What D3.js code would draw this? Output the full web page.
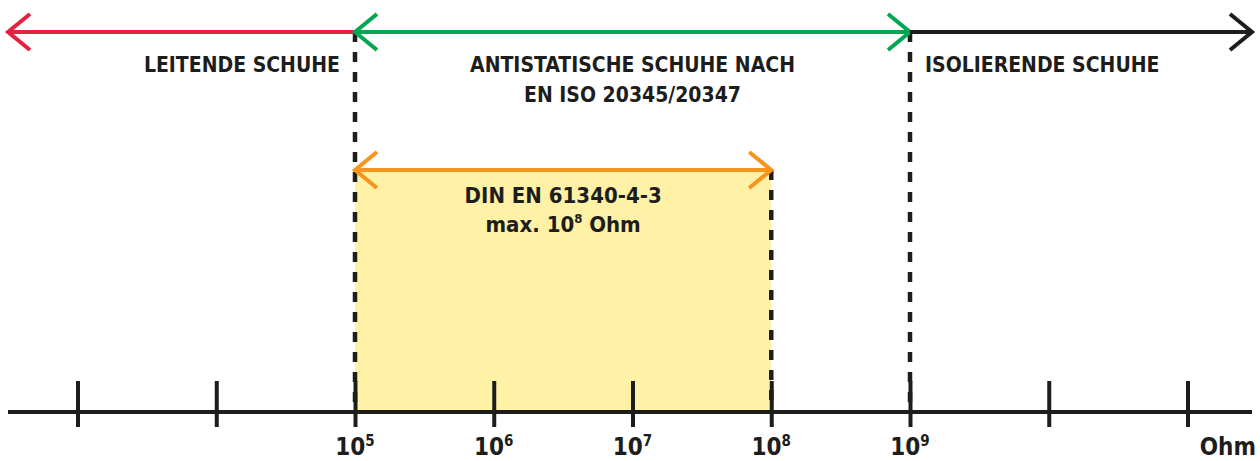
<!DOCTYPE html>
<html>
<head>
<meta charset="utf-8">
<script src="https://cdn.jsdelivr.net/npm/d3@7"></script>
<style>
  body { margin: 0; background: #fff; }
  text { font-family: 'Liberation Sans Narrow', 'DejaVu Sans Condensed', 'Liberation Sans', sans-serif; font-weight: bold; fill: #1d1d1b; }
</style>
</head>
<body>
<div id="chart"></div>
<script>
// decades shown on the axis (Ohm)
const tickValues = [1e3, 1e4, 1e5, 1e6, 1e7, 1e8, 1e9, 1e10, 1e11];
const labelExponents = [5, 6, 7, 8, 9];
const unitLabel = "Ohm";

// shoe classes along the top (null = open end of the axis)
const classNames = ["LEITENDE SCHUHE", "ANTISTATISCHE SCHUHE NACH", "ISOLIERENDE SCHUHE"];
const classSubNames = ["", "EN ISO 20345/20347", ""];
const classFrom = [null, 1e5, 1e9];
const classTo = [1e5, 1e9, null];
const classColors = ["#e3203d", "#00a651", "#1d1d1b"];

// DIN range
const dinFrom = 1e5, dinTo = 1e8;
const dinTitle = "DIN EN 61340-4-3";

// set the dimensions
const width = 1260, height = 461;
const axisLeft = 8, axisRight = 1252;
const axisY = 412, topY = 32, dinY = 170;

const svg = d3.select("#chart")
  .append("svg")
    .attr("width", width)
    .attr("height", height);

// log scale: one decade per ~139 px
const x = d3.scaleLog()
  .domain([1e5, 1e9])
  .range([355, 910]);

const px = v => v === null ? null : x(v);

// yellow DIN area
svg.append("rect")
  .attr("x", x(dinFrom))
  .attr("y", dinY)
  .attr("width", x(dinTo) - x(dinFrom))
  .attr("height", axisY - dinY)
  .style("fill", "#fff1a6");

// dashed boundaries
const dashes = [
  {v: 1e5, y0: topY},
  {v: 1e9, y0: topY},
  {v: dinTo, y0: dinY}
];
svg.selectAll("line.dash")
  .data(dashes)
  .join("line")
    .attr("class", "dash")
    .attr("x1", d => x(d.v))
    .attr("x2", d => x(d.v))
    .attr("y1", d => d.y0)
    .attr("y2", axisY)
    .style("stroke", "#1d1d1b")
    .style("stroke-width", 4.5)
    .style("stroke-dasharray", "10,10");

// arrow helper
function arrow(x0, x1, y, color, headLeft, headRight) {
  const g = svg.append("g")
    .style("stroke", color)
    .style("stroke-width", 4)
    .style("fill", "none");
  g.append("line")
    .attr("x1", x0).attr("x2", x1)
    .attr("y1", y).attr("y2", y);
  const dx = 22, dy = 18;
  if (headLeft) {
    g.append("path").attr("d", `M${x0 + dx},${y - dy}L${x0},${y}L${x0 + dx},${y + dy}`);
  }
  if (headRight) {
    g.append("path").attr("d", `M${x1 - dx},${y - dy}L${x1},${y}L${x1 - dx},${y + dy}`);
  }
}

// top arrows
classNames.forEach((name, i) => {
  const a = classFrom[i] === null ? axisLeft : px(classFrom[i]);
  const b = classTo[i] === null ? axisRight : px(classTo[i]);
  const hl = classFrom[i] === null || i === 1;
  const hr = classTo[i] === null || i === 1;
  arrow(a, b, topY, classColors[i], hl, hr);
});

// class labels
const fs = "21px";
svg.append("text")
  .attr("x", x(classTo[0]) - 15)
  .attr("y", 72)
  .attr("text-anchor", "end")
  .style("font-size", fs)
  .text(classNames[0]);

const mid = (x(classFrom[1]) + x(classTo[1])) / 2;
svg.append("text")
  .attr("x", mid)
  .attr("y", 72)
  .attr("text-anchor", "middle")
  .style("font-size", fs)
  .text(classNames[1]);
svg.append("text")
  .attr("x", mid)
  .attr("y", 102)
  .attr("text-anchor", "middle")
  .style("font-size", fs)
  .text(classSubNames[1]);

svg.append("text")
  .attr("x", x(classFrom[2]) + 15)
  .attr("y", 72)
  .attr("text-anchor", "start")
  .style("font-size", fs)
  .text(classNames[2]);

// DIN arrow and label
arrow(x(dinFrom), x(dinTo), dinY, "#f7941d", true, true);

const dinMid = (x(dinFrom) + x(dinTo)) / 2;
svg.append("text")
  .attr("x", dinMid)
  .attr("y", 203)
  .attr("text-anchor", "middle")
  .style("font-size", "22px")
  .text(dinTitle);

const maxLabel = svg.append("text")
  .attr("x", dinMid)
  .attr("y", 232)
  .attr("text-anchor", "middle")
  .style("font-size", "22px");
maxLabel.append("tspan").text("max. 10");
maxLabel.append("tspan").attr("dy", -9).style("font-size", "13px").text(Math.log10(dinTo));
maxLabel.append("tspan").attr("dy", 9).text(" Ohm");

// Axis
svg.append("line")
  .attr("x1", axisLeft).attr("x2", axisRight)
  .attr("y1", axisY).attr("y2", axisY)
  .style("stroke", "#1d1d1b")
  .style("stroke-width", 4);

const axis = svg.append("g")
  .attr("transform", `translate(0, ${axisY})`)
  .call(d3.axisBottom(x).tickValues(tickValues).tickFormat("").tickSize(15));
axis.select(".domain").remove();
axis.selectAll(".tick line")
  .attr("y1", -31)
  .attr("y2", 15)
  .style("stroke", "#1d1d1b")
  .style("stroke-width", 4);

// tick labels 10^n
const labels = svg.selectAll("text.tickLabel")
  .data(labelExponents)
  .join("text")
    .attr("class", "tickLabel")
    .attr("x", d => x(Math.pow(10, d)))
    .attr("y", 455)
    .attr("text-anchor", "middle")
    .style("font-size", "24px");
labels.append("tspan").text("10");
labels.append("tspan")
  .attr("dy", -9)
  .style("font-size", "15px")
  .text(d => d);

svg.append("text")
  .attr("x", 1256)
  .attr("y", 455)
  .attr("text-anchor", "end")
  .style("font-size", "24px")
  .text(unitLabel);
</script>
</body>
</html>
